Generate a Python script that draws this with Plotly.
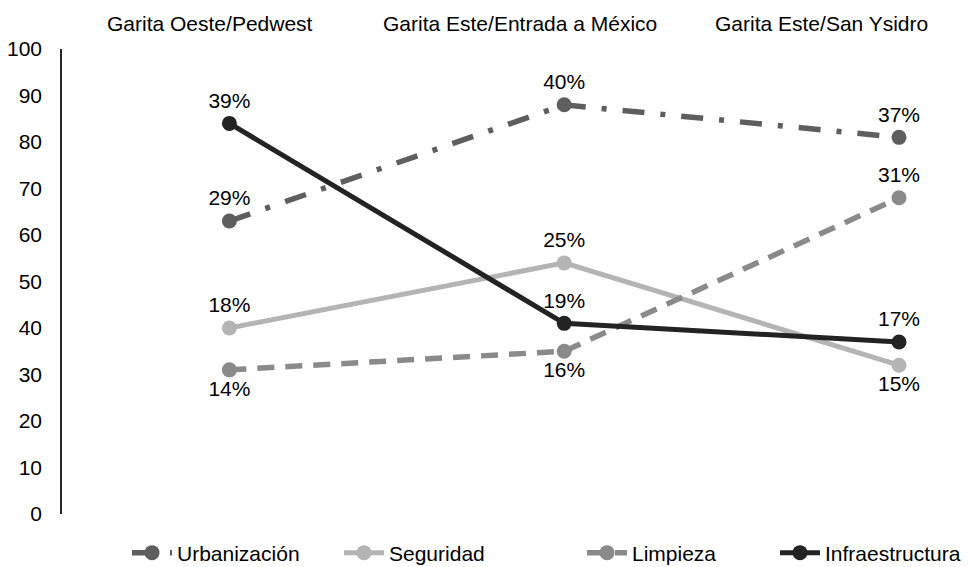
import plotly.graph_objects as go

# Crossings and survey results
categorias = ["Garita Oeste/Pedwest", "Garita Este/Entrada a México", "Garita Este/San Ysidro"]
series = ["Urbanización", "Seguridad", "Limpieza", "Infraestructura"]

urbanizacion = [63, 88, 81]
seguridad = [40, 54, 32]
limpieza = [31, 35, 68]
infraestructura = [84, 41, 37]

urbanizacion_pct = [29, 40, 37]
seguridad_pct = [18, 25, 15]
limpieza_pct = [14, 16, 31]
infraestructura_pct = [39, 19, 17]

y_ticks = list(range(0, 101, 10))

FONT = "Liberation Sans, Arial, sans-serif"
FS = 21
W, H = 970, 567
M_L, M_R, M_T, M_B = 62, 0, 49, 53
plot_w = W - M_L - M_R
plot_h = H - M_T - M_B

styles = {
    "Urbanización": dict(color="#5e5e5e", width=5.5, dash="22px,16px,5px,16px"),
    "Seguridad": dict(color="#b4b4b4", width=5, dash="solid"),
    "Limpieza": dict(color="#8a8a8a", width=5.5, dash="17px,11px"),
    "Infraestructura": dict(color="#232323", width=5, dash="solid"),
}
text_pos = {
    "Urbanización": ["top center"] * 3,
    "Seguridad": ["top center", "top center", "bottom center"],
    "Limpieza": ["bottom center", "bottom center", "top center"],
    "Infraestructura": ["top center"] * 3,
}
values = {
    "Urbanización": (urbanizacion, urbanizacion_pct),
    "Seguridad": (seguridad, seguridad_pct),
    "Limpieza": (limpieza, limpieza_pct),
    "Infraestructura": (infraestructura, infraestructura_pct),
}
# left edge (px) of each legend entry along the bottom
legend_px = [127, 339, 582, 775]

x_idx = list(range(len(categorias)))

fig = go.Figure()
legend_ids = ["legend", "legend2", "legend3", "legend4"]
for name, lid in zip(series, legend_ids):
    vals, pct = values[name]
    st = styles[name]
    fig.add_trace(go.Scatter(
        x=x_idx, y=vals, name=name, mode="lines+markers+text",
        line=dict(color=st["color"], width=st["width"], dash=st["dash"]),
        marker=dict(size=15, color=st["color"]),
        text=[f"{p}%" for p in pct],
        textposition=text_pos[name],
        textfont=dict(family=FONT, size=FS, color="#000000"),
        cliponaxis=False,
        legend=lid,
    ))

# category names along the top
label_px = [209.5, 519.5, 821]
for cat, px in zip(categorias, label_px):
    fig.add_annotation(
        text=cat, xref="paper", yref="paper",
        x=(px - M_L) / plot_w, y=1, yshift=26,
        xanchor="center", yanchor="middle", showarrow=False,
        font=dict(family=FONT, size=FS, color="#000000"),
    )

legend_layout = {}
for lid, px in zip(legend_ids, legend_px):
    legend_layout[lid] = dict(
        orientation="h", x=(px - M_L) / plot_w, y=(M_T + plot_h - 553) / plot_h,
        xanchor="left", yanchor="middle",
        font=dict(family=FONT, size=FS, color="#000000"),
        itemwidth=40, bgcolor="rgba(0,0,0,0)",
    )

fig.update_layout(
    width=W, height=H,
    margin=dict(l=M_L, r=M_R, t=M_T, b=M_B, autoexpand=False),
    paper_bgcolor="white", plot_bgcolor="white",
    font=dict(family=FONT, size=FS, color="#000000"),
    showlegend=True,
    xaxis=dict(
        range=[-0.5, 2.212], showgrid=False, zeroline=False,
        showline=False, showticklabels=False, ticks="",
    ),
    yaxis=dict(
        range=[0, 100], tickvals=y_ticks, showgrid=False, zeroline=False,
        showline=True, linecolor="#262626", linewidth=1.5,
        ticks="", ticklabelstandoff=14,
        tickfont=dict(family=FONT, size=FS, color="#000000"),
    ),
    **legend_layout,
)

fig.write_html("out.html")
